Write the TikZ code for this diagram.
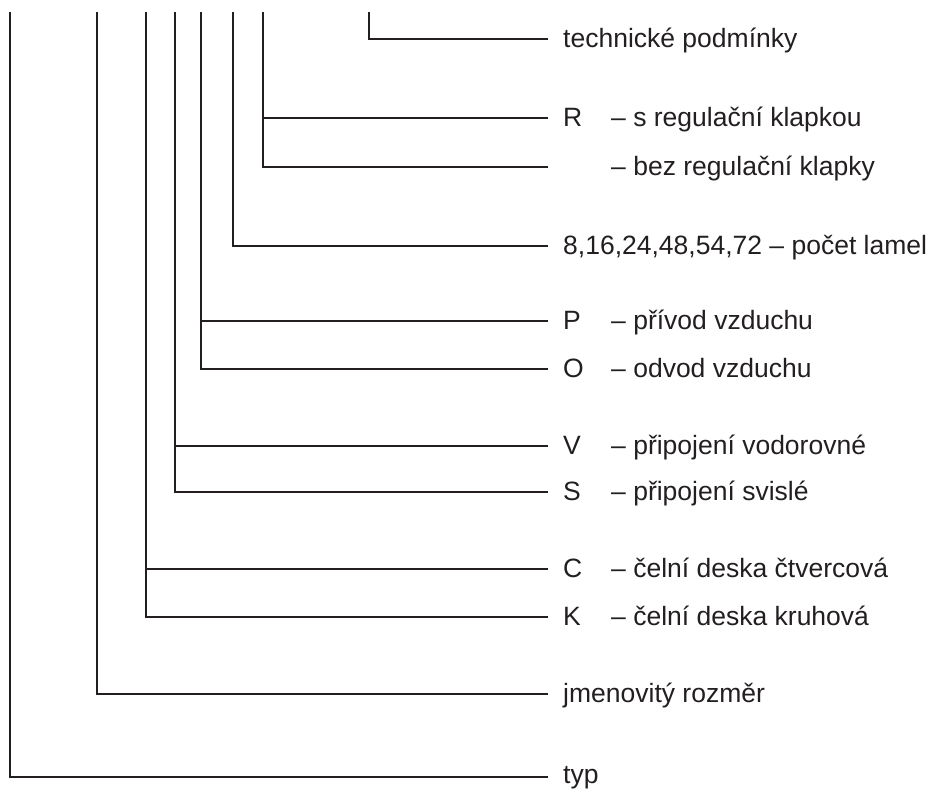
\documentclass[tikz,border=0pt]{standalone}
\usepackage{fontspec}
\setmainfont{Liberation Sans}
\definecolor{ink}{HTML}{231F20}
\begin{document}
\begin{tikzpicture}[x=1pt,y=-1pt,
  ln/.style={draw=ink, line width=2pt, line join=miter},
  lbl/.style={anchor=base west, inner sep=0pt, font=\fontsize{26.5}{32}\selectfont, text=ink}]
\useasboundingbox (0,0) rectangle (933,790);
\def\ltop{12}
\def\lend{547.7}
\def\lx{563}
\def\dx{611}
\def\bo{8.5}
% coordinates: tops of verticals
\coordinate (tTech) at (369,\ltop);
\coordinate (tR) at (262.7,\ltop);
\coordinate (tLam) at (232.7,\ltop);
\coordinate (tP) at (200.5,\ltop);
\coordinate (tV) at (175.3,\ltop);
\coordinate (tC) at (146,\ltop);
\coordinate (tJm) at (97.3,\ltop);
\coordinate (tTyp) at (10,\ltop);
% line ends
\coordinate (eTech) at (\lend,38.7);
\coordinate (eR) at (\lend,118.3);
\coordinate (eBez) at (\lend,166.7);
\coordinate (eLam) at (\lend,246);
\coordinate (eP) at (\lend,321.3);
\coordinate (eO) at (\lend,369.3);
\coordinate (eV) at (\lend,446);
\coordinate (eS) at (\lend,492);
\coordinate (eC) at (\lend,569.3);
\coordinate (eK) at (\lend,616.7);
\coordinate (eJm) at (\lend,694);
\coordinate (eTyp) at (\lend,777);
% connectors
\draw[ln] (tTech) |- (eTech);
\draw[ln] (tR) |- (eBez);
\draw[ln] (tR |- eR) -- (eR);
\draw[ln] (tLam) |- (eLam);
\draw[ln] (tP) |- (eO);
\draw[ln] (tP |- eP) -- (eP);
\draw[ln] (tV) |- (eS);
\draw[ln] (tV |- eV) -- (eV);
\draw[ln] (tC) |- (eK);
\draw[ln] (tC |- eC) -- (eC);
\draw[ln] (tJm) |- (eJm);
\draw[ln] (tTyp) |- (eTyp);
% labels
\node[lbl] (lTech) at (\lx,38.7+\bo) {technické podmínky};
\node[lbl] (lR) at (\lx,118.3+\bo) {R};
\node[lbl] (dR) at (\dx,118.3+\bo) {– s regulační klapkou};
\node[lbl] (dBez) at (\dx,166.7+\bo) {– bez regulační klapky};
\node[lbl] (lLam) at (\lx,246+\bo) {8,16,24,48,54,72 – počet lamel};
\node[lbl] (lP) at (\lx,321.3+\bo) {P};
\node[lbl] (dP) at (\dx,321.3+\bo) {– přívod vzduchu};
\node[lbl] (lO) at (\lx,369.3+\bo) {O};
\node[lbl] (dO) at (\dx,369.3+\bo) {– odvod vzduchu};
\node[lbl] (lV) at (\lx,446+\bo) {V};
\node[lbl] (dV) at (\dx,446+\bo) {– připojení vodorovné};
\node[lbl] (lS) at (\lx,492+\bo) {S};
\node[lbl] (dS) at (\dx,492+\bo) {– připojení svislé};
\node[lbl] (lC) at (\lx,569.3+\bo) {C};
\node[lbl] (dC) at (\dx,569.3+\bo) {– čelní deska čtvercová};
\node[lbl] (lK) at (\lx,616.7+\bo) {K};
\node[lbl] (dK) at (\dx,616.7+\bo) {– čelní deska kruhová};
\node[lbl] (lJm) at (\lx,694+\bo) {jmenovitý rozměr};
\node[lbl] (lTyp) at (\lx,783) {typ};
\end{tikzpicture}
\end{document}
